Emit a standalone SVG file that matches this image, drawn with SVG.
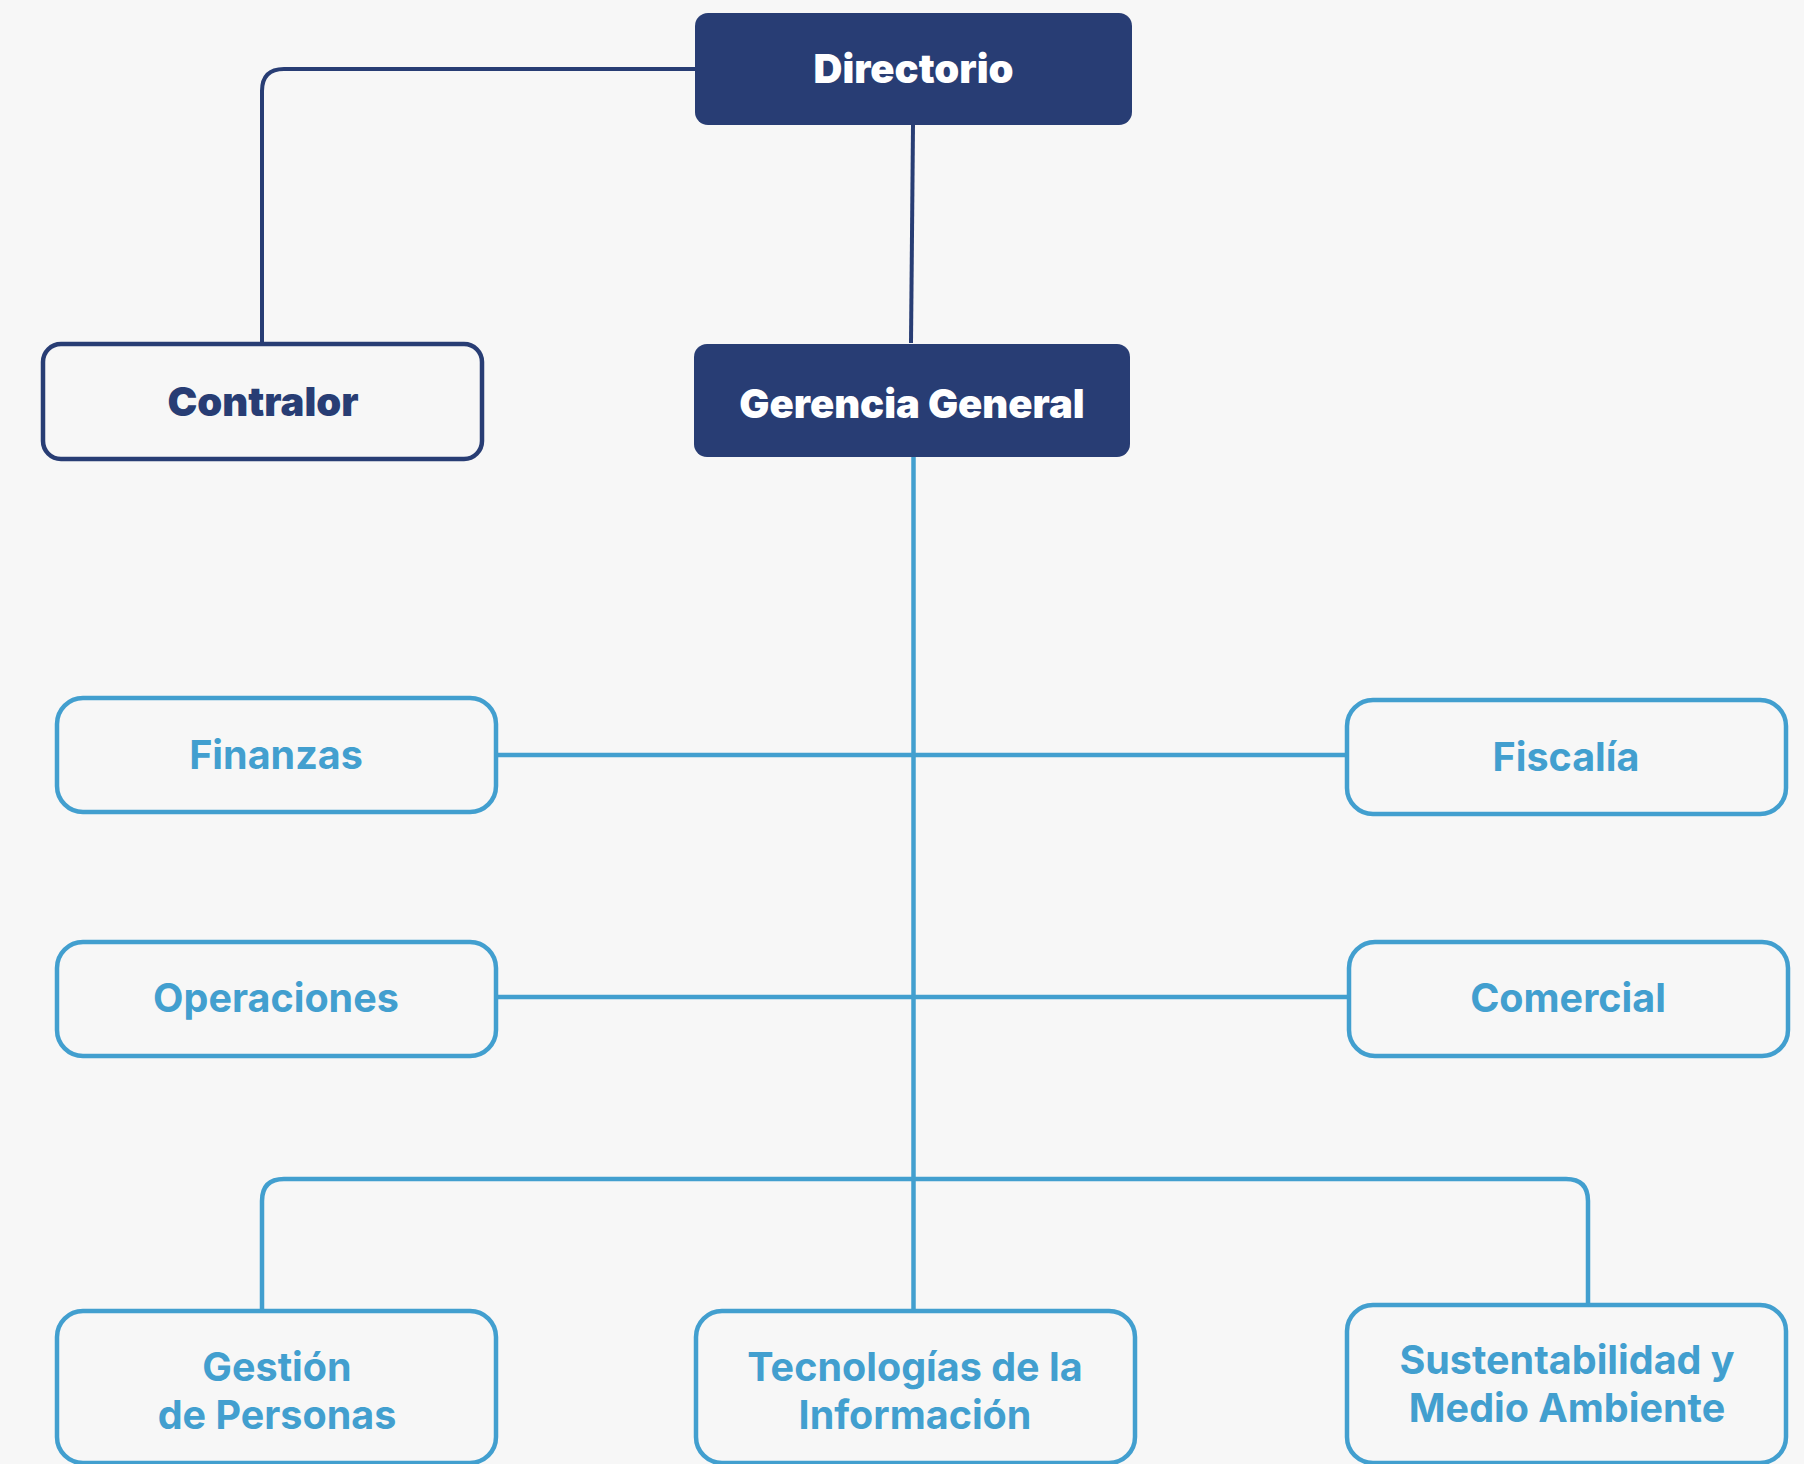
<svg xmlns="http://www.w3.org/2000/svg" width="1804" height="1464" viewBox="0 0 1804 1464">
<style>
.bg{fill:#f7f7f7}
.dark{fill:#283d74;stroke:none}
.outline-dark{fill:#f7f7f7;stroke:#283d74;stroke-width:4.5}
.outline-blue{fill:#f7f7f7;stroke:#429fcf;stroke-width:4.5}
.t{font-family:Inter,"Noto Sans","Liberation Sans",sans-serif;text-anchor:middle}
.tw{fill:#ffffff;font-weight:900;font-size:40px}
.tn{fill:#283d74;font-weight:900;font-size:40px}
.tb{fill:#429fcf;font-weight:700;font-size:39.5px}
.cd{fill:none;stroke:#283d74;stroke-width:4}
.cb{fill:none;stroke:#429fcf;stroke-width:4.5}
</style>
<rect class="bg" x="0" y="0" width="1804" height="1464"/>
<g id="connectors">
  <path class="cd" d="M695 69 H284 Q262 69 262 91 V343"/>
  <path class="cd" d="M913 125 L911 343"/>
  <path class="cb" d="M913.5 457 V1310"/>
  <path class="cb" d="M497 755 H1346"/>
  <path class="cb" d="M497 997 H1347"/>
  <path class="cb" d="M262 1310 V1201 Q262 1179 284 1179 H1566 Q1588 1179 1588 1201 V1304"/>
</g>
<g id="directorio">
  <rect class="dark" x="695" y="13" width="437" height="112" rx="13"/>
  <text class="t tw" x="913.5" y="83">Directorio</text>
</g>
<g id="contralor">
  <rect class="outline-dark" x="43" y="344" width="439" height="115" rx="18"/>
  <text class="t tn" x="263" y="416">Contralor</text>
</g>
<g id="gerencia-general">
  <rect class="dark" x="694" y="344" width="436" height="113" rx="13"/>
  <text class="t tw" x="912" y="418">Gerencia General</text>
</g>
<g id="finanzas">
  <rect class="outline-blue" x="57" y="698" width="439" height="114" rx="26"/>
  <text class="t tb" x="276" y="769">Finanzas</text>
</g>
<g id="fiscalia">
  <rect class="outline-blue" x="1347" y="700" width="439" height="114" rx="26"/>
  <text class="t tb" x="1566" y="771">Fiscalía</text>
</g>
<g id="operaciones">
  <rect class="outline-blue" x="57" y="942" width="439" height="114" rx="26"/>
  <text class="t tb" x="276" y="1012">Operaciones</text>
</g>
<g id="comercial">
  <rect class="outline-blue" x="1349" y="942" width="439" height="114" rx="26"/>
  <text class="t tb" x="1568" y="1012">Comercial</text>
</g>
<g id="gestion-personas">
  <rect class="outline-blue" x="57" y="1311" width="439" height="152" rx="26"/>
  <text class="t tb" x="277" y="1381">Gestión</text>
  <text class="t tb" x="277" y="1429">de Personas</text>
</g>
<g id="tecnologias">
  <rect class="outline-blue" x="696" y="1311" width="439" height="152" rx="26"/>
  <text class="t tb" x="915" y="1381">Tecnologías de la</text>
  <text class="t tb" x="915" y="1429">Información</text>
</g>
<g id="sustentabilidad">
  <rect class="outline-blue" x="1347" y="1305" width="439" height="158" rx="26"/>
  <text class="t tb" x="1567" y="1374">Sustentabilidad y</text>
  <text class="t tb" x="1567" y="1422">Medio Ambiente</text>
</g>
</svg>
